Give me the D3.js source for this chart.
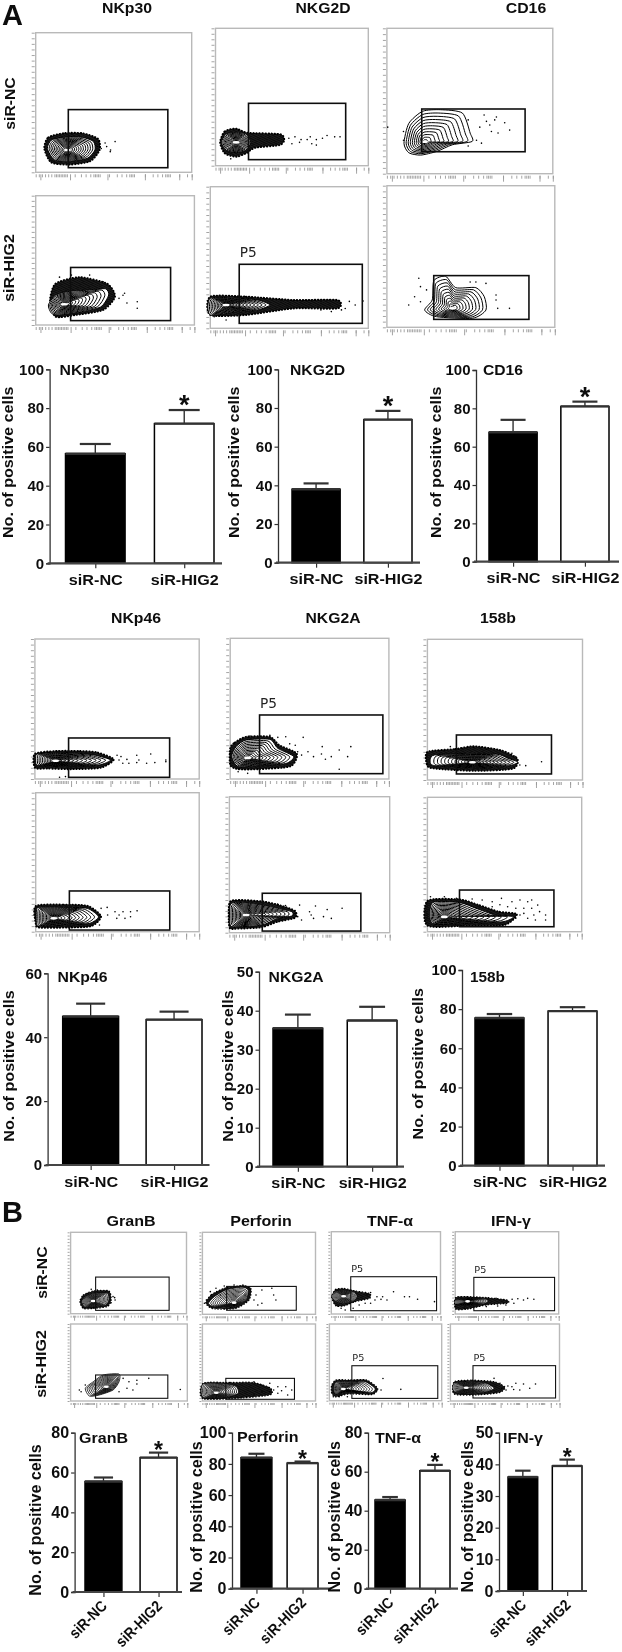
<!DOCTYPE html>
<html>
<head>
<meta charset="utf-8">
<script src="https://cdn.jsdelivr.net/npm/d3@7"></script>
<style>
  html, body { margin: 0; padding: 0; background: #fff; }
  svg { display: block; }
  text { font-family: "Liberation Sans", Arial, sans-serif; font-weight: bold; fill: #111; }
  .p5 { font-family: "DejaVu Sans", sans-serif; font-weight: normal; fill: #222; }
</style>
</head>
<body>
<div id="chart-area"></div>
<script>
// Bar chart data, one entry per small chart
const barNames = ['NKp30', 'NKG2D', 'CD16', 'NKp46', 'NKG2A', '158b', 'GranB', 'Perforin', 'TNF-α', 'IFN-γ'];
const groups = ['siR-NC', 'siR-HIG2'];
const barMeans = [[56.5, 72], [38, 74], [67.5, 81], [46.5, 45.5], [35.5, 37.5], [75.5, 79], [55.5, 67.5], [84, 80.5], [45.5, 60.5], [36, 39.5]];
const barErrTops = [[61.5, 79], [41, 78.5], [74, 83.5], [50.5, 48], [39, 41], [77.5, 81], [57.5, 70], [86.5, 81.5], [47, 63.5], [38, 41.5]];
const barStars = [true, true, true, false, false, false, true, true, true, true];
const barTicks = [
  [0, 20, 40, 60, 80, 100], [0, 20, 40, 60, 80, 100], [0, 20, 40, 60, 80, 100],
  [0, 20, 40, 60], [0, 10, 20, 30, 40, 50], [0, 20, 40, 60, 80, 100],
  [0, 20, 40, 60, 80], [0, 20, 40, 60, 80, 100], [0, 20, 40, 60, 80], [0, 10, 20, 30, 40, 50]
];

// Flow plots, in percent of the plot width and height
const flowTitles = ['NKp30', 'NKG2D', 'CD16', 'NKp46', 'NKG2A', '158b', 'GranB', 'Perforin', 'TNF-α', 'IFN-γ'];
const flowGates = [
  [20.9, 84.7, 3.3, 44.9], [21.6, 85.2, 4.4, 45.4], [21, 83.3, 15.1, 44.5],
  [22, 85, 3.4, 44.5], [18.3, 96.2, 3.5, 45.2], [27.9, 84.6, 5.6, 36.5],
  [20.5, 82, 1.2, 29.3], [18.5, 96.2, 3.8, 45.5], [18.7, 80, 4.3, 32],
  [20.6, 82, 1.2, 29.3], [20.5, 82, 1.2, 29], [20.8, 82, 3.7, 31],
  [21.6, 85, 4.1, 45], [21.4, 83, 4.9, 34], [17.8, 96.4, 4, 45.3], [18, 96, 4, 44.5],
  [21.4, 83.3, 3.5, 33.8], [20.7, 81.4, 2.2, 29.4], [20, 96.5, 3, 45.6], [20.7, 96.4, 3.9, 45.9]
];
const flowCores = [
  [20.4, 16], [13.5, 17], [22.7, 22], [18, 16], [10, 16.5], [39, 13.4],
  [12.6, 13], [11, 15], [29, 12.6], [11, 9.6], [10.4, 13], [11, 11],
  [19.5, 15.6], [28, 14.2], [11.3, 21.5], [12, 15.4],
  [30.6, 18.6], [12.3, 10.8], [12.4, 15.2], [14.5, 17.3]
];
const flowOutlines = [
  [[7.5, 17], [10, 23], [18, 25], [30, 25], [37, 22], [38, 16], [33, 10], [22, 8], [12, 9]],
  [[3.9, 17], [7, 23], [13.5, 24.3], [20, 23], [23, 17], [20, 11.4], [13.5, 9.5], [7, 11.4]],
  [[10.3, 20.9], [13.2, 34.6], [21.5, 42.9], [32.3, 44], [45.5, 41.7], [50.2, 27.9], [51.4, 22.2], [39.5, 19.9], [30, 15.3], [20.3, 12.8], [13.2, 14.4]],
  [[8, 15.5], [12.5, 23], [21, 26], [35, 27], [44, 28], [46, 23.2], [41, 14], [27.5, 10], [15, 7.7], [10, 9]],
  [[0, 21.2], [17.6, 21.2], [30, 20], [37.7, 16.5], [30, 13], [17.6, 11.8], [0, 9.4]],
  [[22.5, 12.2], [27, 19.3], [28, 33], [35, 36], [41, 28], [53, 28], [58, 21.6], [59, 12.2], [51, 6.4], [29.5, 7.5]],
  [[0.5, 16], [1.7, 17.9], [12.6, 18.8], [27, 18.3], [36.7, 17], [46, 13.6], [39, 10], [22, 9], [7.7, 9.3], [1, 10]],
  [[1, 16], [3.7, 23], [10, 27.7], [25, 28.2], [30, 21.8], [40, 16], [35, 11], [17.5, 9.5], [5, 8.8]],
  [[2, 15.4], [4.6, 17.8], [18.7, 18.5], [44, 18.5], [52, 15.4], [58.3, 12.6], [52, 10], [31.5, 8.3], [5.9, 10], [2, 11.8]],
  [[0.5, 15.6], [2.4, 17.5], [17, 17.5], [31.5, 16.8], [38.4, 10.8], [33, 6], [19.4, 4.8], [2.4, 4], [0.5, 6]],
  [[0.5, 20.3], [5.4, 22.3], [20.3, 20.3], [30, 17.9], [39, 15.4], [39, 12.3], [30, 10.5], [20.3, 5.6], [5.4, 4.4], [0.5, 5.6]],
  [[3.3, 21.6], [21, 21.6], [31.5, 17.4], [44, 12.4], [55.8, 11.2], [49, 7.4], [26.5, 6.2], [3.3, 6.2]],
  [[9.6, 14.8], [12.7, 20.9], [21, 25], [31.5, 25], [33, 16.9], [30, 10.7], [21, 8.6], [12.7, 8.6]],
  [[5.3, 13.4], [10.5, 21.5], [21, 29.7], [35, 33], [40.4, 29.7], [38.6, 17.5], [28, 9.3], [10.5, 9.3]],
  [[0.4, 21.5], [3.6, 27], [11.3, 29], [20, 27], [23.6, 21.5], [20, 15.8], [11.3, 13], [3.6, 15.8]],
  [[0.4, 17], [9, 19.8], [26, 19], [31.8, 15.8], [26, 12], [9, 11], [0.4, 12]],
  [[12.6, 16.5], [19.4, 25], [28, 33.8], [41.5, 35], [41.5, 25], [36.4, 14.3], [24.5, 7.8], [16, 6.5]],
  [[0.7, 22], [21, 22], [30, 18.6], [31.6, 10], [21, 4.8], [0.7, 4.8]],
  [[4.2, 20.4], [7, 24.8], [17.7, 24.8], [31.8, 24.8], [40.6, 16], [37, 10.4], [17.7, 11.7], [7, 8.3], [4.2, 11.7]],
  [[3.6, 23], [20, 25], [32.7, 23], [40, 16.5], [32.7, 12], [20, 10], [3.6, 12.5]]
];
// Dense speckle around each population, [] where the plot has none
const flowHalos = [
  [[5.5, 17], [8, 25], [18, 28], [30, 28], [40, 24], [41, 16], [35, 8], [22, 5.5], [10, 7]],
  [[3, 17], [6, 25], [13.5, 27], [21, 24], [42, 23], [45, 19], [42, 15], [26, 13], [20, 9], [13.5, 6.5], [6, 9]],
  [],
  [[9, 19], [12.5, 32], [27.5, 37], [45, 32], [50, 22], [42.5, 11.6], [25, 7.7], [12.5, 6.4]],
  [[0, 22.4], [22.6, 22.4], [52.8, 20], [80.4, 20], [80.4, 14], [52.8, 14], [22.6, 9.4], [0, 9.4]],
  [],
  [[0, 18], [13, 20], [27, 20], [38, 19], [48, 14], [40, 8], [22, 7], [8, 7.5], [0, 8]],
  [[0, 22], [3, 26], [10, 30], [25, 30], [31, 24], [42, 18], [38, 9], [18, 7], [5, 7], [0, 10]],
  [[0, 20], [18, 22], [30, 24], [48, 21], [58, 15], [55, 8], [30, 6.5], [6, 8], [0, 10]],
  [[0, 18.5], [17, 19.5], [32, 18.5], [40, 11], [34, 4], [19, 3], [2, 3], [0, 6]],
  [[0, 22], [6, 24], [21, 23], [32, 20], [41, 16], [41, 11], [30, 8], [20, 4], [5, 3], [0, 4]],
  [[0, 23], [21, 24], [33, 20], [46, 15], [58, 13], [50, 5], [26, 4.5], [0, 4.5]],
  [[8, 15], [11, 23], [20, 28], [33, 28], [35, 17], [32, 9], [20, 6.5], [11, 6.5]],
  [[3, 14], [8, 24], [20, 32], [36, 35], [43, 31], [41, 17], [29, 7], [9, 7]],
  [[0.4, 21], [4, 30], [12, 31], [22, 28], [35, 25], [35, 19], [22, 15], [12, 10], [4, 10]],
  [[0.4, 20], [12, 21], [30, 20], [50, 17], [50, 13], [30, 11], [12, 6], [0.4, 6]],
  [],
  [[0.7, 23], [25, 24], [45, 24], [60, 17], [60, 8], [35, 4], [0.7, 3]],
  [[2, 20], [6, 27], [18, 27], [33, 27], [43, 16], [38, 8], [18, 9], [6, 5], [2, 10]],
  [[3.6, 25], [20, 27], [40, 25], [50, 18], [45, 11], [25, 8], [3.6, 9]]
];
const flowDots = [
  [[40.7, 22], [44.5, 21], [47.8, 14.8], [50.9, 22], [45.5, 18.4], [42, 17], [39.5, 18.4], [48, 16]],
  [[48, 20], [52, 21], [56, 19], [60, 19], [62, 21], [66, 19], [70, 20], [73, 22], [78, 21], [81.5, 21], [50, 16], [55, 17], [63, 16], [66, 15], [10, 5]],
  [[49, 37], [58.6, 40.4], [62, 33.5], [66, 39], [56, 32], [63, 29], [67, 28], [74, 30], [71, 35], [54, 23], [57, 21], [49, 19], [0.5, 32], [10, 29], [10, 23], [60, 36], [65, 37]],
  [[55, 23], [57.5, 17], [64, 18], [64, 13], [52.5, 20.6], [56, 24.5], [34, 38.6], [15, 37], [22.5, 38.6], [42.5, 33.5]],
  [[88, 19], [96.7, 19.3], [91.7, 16.5], [85.4, 14], [10, 5.9], [2.5, 8.2], [83, 13], [76.6, 11.8], [70, 13]],
  [[19, 34.6], [20, 28.7], [23.6, 26.4], [16.5, 21.6], [13, 15.8], [20, 18], [65, 22.8], [65, 19.3], [73, 13.4], [66, 13.4], [49.6, 32], [53, 32], [59, 31]],
  [[50, 17], [52.4, 16], [51.2, 13.6], [56, 14], [57.2, 11.2], [62, 17], [63.3, 13.6], [62, 11.7], [70.5, 17.9], [68, 11.2], [73, 11.7], [79.7, 13.6], [79.7, 12.4], [15, 1.2], [18.6, 1.7], [53.5, 11.2]],
  [[2.5, 25], [12.5, 30.6], [18.7, 30], [25, 31], [30, 29.6], [35, 30], [46, 29.6], [41, 24], [37.5, 25], [42.5, 19.4], [49, 19.4], [45, 17], [52.5, 15.9], [58, 23], [57.5, 17.8], [63.7, 15.9], [60, 14], [68.7, 20.6], [76, 23], [74, 15.9], [68.7, 6.9], [11, 4], [5, 5.2]],
  [[14.8, 23.7], [11, 21], [22.5, 22.5], [30, 23.2], [37.8, 21.8], [57, 16.6], [63.4, 10.2], [73.6, 13], [59.6, 10.7], [54.5, 19]],
  [[40, 16.8], [43.7, 17.5], [39, 12], [37.6, 7.2], [48.5, 14.4], [51, 12], [53.4, 14.4], [58, 14.4], [62, 15], [49.6, 9.6], [54.6, 9.6], [58, 10.8], [39, 4.8], [44, 12]],
  [[30, 21], [35, 20], [43.8, 20.3], [53.7, 19.6], [61, 17], [70.3, 18], [41, 14], [42.6, 11.8], [50, 15.4], [51, 13], [58.7, 11.8], [63.6, 10.5], [45, 9.3], [52.5, 10.5]],
  [[29, 24.3], [35.5, 23.6], [42, 22.3], [48, 24.8], [54.8, 22.3], [60, 23.6], [65, 22.3], [52, 18.6], [57.3, 17.4], [62.5, 17.4], [67.6, 17.4], [69, 12.4], [72.7, 14.9], [76.6, 12.4], [76.6, 8.7], [70, 8.7], [65, 10], [60, 12.4], [57.3, 10], [62.5, 13.6], [47, 20], [42, 18.6], [71.5, 19.8], [2, 26], [11, 26], [18.8, 24.8], [67.6, 23.6]],
  [[17.8, 30], [23, 29], [30, 27], [36.6, 21], [38.4, 16.8], [35, 13.5], [15, 25], [38, 19.7]],
  [[3.5, 17.5], [7, 27.6], [12, 31.7], [15.8, 23.6], [19.3, 34.5], [28, 35.8], [35.8, 35.8], [42, 31.7], [47.4, 23.6], [52.6, 29.7], [61.4, 31.7], [65, 17.5], [52.6, 13.4], [45.6, 17.5], [49, 11.4], [1.8, 13.4], [63, 23.6]],
  [[32.7, 23], [36, 26], [41.8, 21], [47, 21], [40, 17], [45.5, 17.8], [57, 27], [67, 21], [71.6, 21], [79, 18], [94.5, 15], [25.5, 11], [31, 13], [20, 7], [9, 7], [12.7, 4.9], [6, 9.7], [51, 17], [36, 13]],
  [[39.5, 19], [47, 17], [55, 18], [60.5, 18.6], [70, 19], [76, 18], [66, 17], [49, 11], [41, 9.7], [56.7, 13], [8.8, 6.9], [18, 9], [30, 9]],
  [[7.5, 14.3], [9, 12], [12.6, 20.8], [45, 29.4], [56.8, 27], [56.8, 22], [67, 29.4], [50, 25], [48.3, 16.5], [94, 15], [41.5, 12], [53.4, 14.3]],
  [[45.6, 25], [52.6, 20.8], [59.6, 23], [66.7, 18.6], [73.7, 18.6], [79, 14.3], [75.4, 7.8], [66.7, 10], [59.6, 12], [52.6, 12], [45.6, 7.8], [38.6, 5.6], [63, 14.3], [70, 13.4], [58, 17.7]],
  [[47.7, 29], [42.4, 14], [46, 14], [63.6, 14.8], [3.5, 5.2], [8.8, 5.2], [16, 5.2], [24.7, 24.8]],
  [[45.5, 23], [52.7, 19.5], [60, 23], [67, 22], [78, 22], [51, 14.3], [58, 15], [63.6, 14.3], [72.7, 16.5], [56.4, 18.6], [47, 16.5], [40, 29.4]]
];
const flowTicksX = [0, 2, 4, 6, 8, 10, 12, 13, 14, 15, 16, 17, 18, 19, 20, 25, 29, 32, 35, 37, 38, 39, 40, 41, 47, 52, 55, 58, 60, 61, 62, 63, 70, 75, 78, 81, 83, 84, 85, 86, 92, 97, 100];
const flowTicksXMajor = [3, 22, 46, 70, 92, 100];
const flowTicksY = [0, 4, 8, 12, 16, 20, 24, 28, 32, 36, 40, 44, 48, 52, 56, 60, 64, 68, 72, 76, 80, 84, 88, 92, 96, 100];
const flowP5Panels = [4, 7, 14, 15, 18, 19];

// Page layout, all in pixels
// [left, right, top, bottom] of each flow plot frame
const flowFrames = [
  [35.7, 191.7, 32.7, 172.3], [215.5, 368.3, 28.3, 165.7], [386.9, 552.8, 28.3, 173.7],
  [35.7, 194.4, 195.7, 325], [210.3, 368.3, 186.7, 328.3], [386.9, 554.8, 185.7, 327.3],
  [34.9, 199.2, 639, 779], [230.2, 388.9, 638.3, 779], [427.4, 582.5, 639.3, 780],
  [35.7, 199.2, 792.7, 931.7], [229.4, 389.7, 796.7, 932.7], [427.4, 581.7, 797.3, 931.7],
  [70.6, 186.5, 1232.3, 1313.7], [202.4, 315.5, 1232.3, 1314.3], [331.3, 440.5, 1231.7, 1314], [455.2, 558.7, 1231.7, 1314],
  [70.6, 187.3, 1324, 1401], [202.4, 315.5, 1324, 1401], [329.4, 441.7, 1324, 1400.7], [450.4, 559.5, 1324, 1401]
];
// [centre x, baseline y, text length]
const flowTitleLayout = [
  [127, 12.7, 50], [323, 12.7, 55], [526, 12.7, 40.5],
  [136, 622.7, 50], [333, 622.7, 55], [498, 622.7, 36],
  [131, 1226, 49], [261, 1226, 61.5], [390, 1226, 46], [511, 1226, 40]
];
// [text, baseline x, centre y, text length] for the rotated row labels
const rowLabelLayout = [
  ['siR-NC', 15, 103.5, 52.3], ['siR-HIG2', 14, 268, 67.7],
  ['siR-NC', 47, 1272.7, 52.3], ['siR-HIG2', 46, 1364, 67.7]
];
// axisX, xEnd, first bar left, last bar right, y top, y bottom, title x, title y, title length, y label x, y label centre
const barLayout = [
  [49.6, 222, 65.5, 214, 369.3, 563.3, 59.5, 375, 50, 12.7, 462.3],
  [278, 420, 292, 412, 369.3, 562.7, 290, 375, 55, 239, 462.3],
  [476, 619, 489, 609, 370, 561.7, 483, 374.7, 40, 440.5, 462.3],
  [47.6, 209.5, 62.7, 202, 973.3, 1165, 57.5, 982.3, 50, 14, 1066],
  [259, 404, 273, 397, 971.7, 1166.7, 268.6, 982.3, 55, 233, 1066],
  [462, 605, 475, 597, 970, 1165.7, 470, 982.3, 35, 423.4, 1063.7],
  [74.6, 182, 85, 177, 1432.7, 1592, 79, 1442.7, 49, 41, 1520],
  [232, 331, 241, 318, 1432.7, 1588.7, 237, 1441.7, 61.5, 202, 1517],
  [368, 458, 375, 450, 1432.7, 1588.7, 375, 1442.7, 46, 340, 1516.7],
  [499, 587, 508, 582, 1432.7, 1591, 503, 1442.7, 40, 473.4, 1516.7]
];

let svg = d3.select('#chart-area').append('svg').attr('width', 622).attr('height', 1652);

// The source figure is a soft JPEG, so everything gets a slight blur
let defs = svg.append('defs');
defs.append('filter').attr('id', 'soft').append('feGaussianBlur').attr('stdDeviation', 0.45);
let stipple = defs.append('pattern').attr('id', 'stipple')
  .attr('width', 2).attr('height', 2)
  .attr('patternUnits', 'userSpaceOnUse')
  .attr('patternTransform', 'rotate(25)');
stipple.append('circle').attr('cx', 1).attr('cy', 1).attr('r', 1.05).attr('fill', '#000');

let page = svg.append('g').attr('filter', 'url(#soft)');

// Panel letters
page.append('text').attr('x', 2).attr('y', 25).attr('font-size', 29).text('A');
page.append('text').attr('x', 2).attr('y', 1221.7).attr('font-size', 29).text('B');

// Titles above the flow columns
flowTitles.forEach((t, i) => {
  let [x, y, len] = flowTitleLayout[i];
  page.append('text').attr('x', x).attr('y', y)
    .attr('text-anchor', 'middle').attr('font-size', 15)
    .attr('textLength', len).attr('lengthAdjust', 'spacingAndGlyphs')
    .text(t);
});

rowLabelLayout.forEach(([t, x, y, len]) => {
  page.append('text')
    .attr('transform', `translate(${x},${y}) rotate(-90)`)
    .attr('text-anchor', 'middle').attr('font-size', 15.5)
    .attr('textLength', len).attr('lengthAdjust', 'spacingAndGlyphs')
    .text(t);
});

flowFrames.forEach((frame, i) => drawFlow(frame, i));
barNames.forEach((name, i) => drawBars(name, i));

function drawFlow([left, right, top, bottom], i) {
  let g = page.append('g').attr('class', 'flow');
  let x = d3.scaleLinear().domain([0, 100]).range([left, right]);
  let y = d3.scaleLinear().domain([0, 100]).range([bottom, top]);
  let small = right - left < 130;
  let tick = small ? 2 : 3;

  // Log style ticks, outside the frame
  let xAxis = g.append('g')
    .attr('transform', `translate(0,${bottom + 2})`)
    .call(d3.axisBottom(x).tickValues(flowTicksX).tickSize(tick).tickFormat(''));
  let xMajor = g.append('g')
    .attr('transform', `translate(0,${bottom + 2})`)
    .call(d3.axisBottom(x).tickValues(flowTicksXMajor).tickSize(tick + 3).tickFormat(''));
  let yAxis = g.append('g')
    .attr('transform', `translate(${left - 1},0)`)
    .call(d3.axisLeft(y).tickValues(flowTicksY).tickSize(tick).tickFormat(''));
  [xAxis, xMajor, yAxis].forEach(a => {
    a.select('.domain').remove();
    a.selectAll('line').attr('stroke', '#9a9a9a').attr('stroke-width', 0.9);
  });

  g.append('rect')
    .attr('x', left).attr('y', top)
    .attr('width', right - left).attr('height', bottom - top)
    .attr('fill', '#fff').attr('stroke', '#b9b9b9').attr('stroke-width', 1.4);

  let line = d3.line().x(d => x(d[0])).y(d => y(d[1])).curve(d3.curveCardinalClosed.tension(0.3));

  // Speckled cloud behind the contours, with a dotted rim
  if (flowHalos[i].length) {
    g.append('path').attr('d', line(flowHalos[i]))
      .attr('fill', 'url(#stipple)')
      .attr('stroke', '#000').attr('stroke-width', small ? 1.3 : 1.9)
      .attr('stroke-linecap', 'round').attr('stroke-dasharray', '0.4 2.6');
  }

  // Nested contours, shrinking onto the densest point
  let core = flowCores[i];
  let outline = flowOutlines[i];
  let levels = i === 2 || i === 5 ? 11 : 13;
  d3.range(levels).forEach(k => {
    let t = Math.pow(1 - k / levels, 1.15);
    let ring = outline.map(p => [core[0] + (p[0] - core[0]) * t, core[1] + (p[1] - core[1]) * t]);
    g.append('path').attr('d', line(ring))
      .attr('fill', k === 0 ? '#fff' : 'none')
      .attr('stroke', '#000').attr('stroke-width', small ? 0.8 : 1);
  });
  g.append('ellipse')
    .attr('cx', x(core[0])).attr('cy', y(core[1]))
    .attr('rx', small ? 2.5 : 3.5).attr('ry', 1.3)
    .attr('fill', '#fff');

  g.selectAll('.dot').data(flowDots[i]).enter()
    .append('circle').attr('class', 'dot')
    .attr('cx', d => x(d[0])).attr('cy', d => y(d[1]))
    .attr('r', 0.8).attr('fill', '#000');

  let gate = flowGates[i];
  g.append('rect')
    .attr('x', x(gate[0])).attr('y', y(gate[3]))
    .attr('width', x(gate[1]) - x(gate[0])).attr('height', y(gate[2]) - y(gate[3]))
    .attr('fill', 'none').attr('stroke', '#111').attr('stroke-width', small ? 1.1 : 1.6);

  if (flowP5Panels.includes(i)) {
    g.append('text').attr('class', 'p5')
      .attr('x', x(gate[0]) + 0.5).attr('y', y(gate[3]) - (small ? 4.3 : 7))
      .attr('font-size', small ? 9 : 13.5)
      .attr('textLength', small ? 12 : 17).attr('lengthAdjust', 'spacingAndGlyphs')
      .text('P5');
  }
}

function drawBars(name, i) {
  let [axisX, xEnd, barL, barR, yTop, yBottom, titleX, titleY, titleLen, labelX, labelY] = barLayout[i];
  let lastRow = i >= 6;
  let g = page.append('g').attr('class', 'bars');

  let ticks = barTicks[i];
  let y = d3.scaleLinear().domain([0, d3.max(ticks)]).range([yBottom, yTop]);
  let x = d3.scaleBand().domain(groups).range([barL, barR]).paddingInner(0.33).paddingOuter(0);

  // Bars
  g.selectAll('.bar').data(groups).enter()
    .append('rect').attr('class', 'bar')
    .attr('x', d => x(d))
    .attr('y', (d, j) => y(barMeans[i][j]))
    .attr('width', x.bandwidth())
    .attr('height', (d, j) => y(0) - y(barMeans[i][j]))
    .attr('fill', (d, j) => (j === 0 ? '#000' : '#fff'))
    .attr('stroke', '#000').attr('stroke-width', 1.5);

  // Error bars, upper half only
  groups.forEach((d, j) => {
    let cx = x(d) + x.bandwidth() / 2;
    let capW = x.bandwidth() * 0.26;
    g.append('line')
      .attr('x1', cx).attr('x2', cx)
      .attr('y1', y(barMeans[i][j])).attr('y2', y(barErrTops[i][j]))
      .attr('stroke', '#222').attr('stroke-width', 1.3);
    g.append('line')
      .attr('x1', cx - capW).attr('x2', cx + capW)
      .attr('y1', y(barErrTops[i][j])).attr('y2', y(barErrTops[i][j]))
      .attr('stroke', '#333').attr('stroke-width', 2.2);
    g.append('line')
      .attr('x1', x(d)).attr('x2', x(d) + x.bandwidth())
      .attr('y1', y(barMeans[i][j])).attr('y2', y(barMeans[i][j]))
      .attr('stroke', '#333').attr('stroke-width', 2.4);
    if (barStars[i] && j === 1) {
      g.append('text')
        .attr('x', cx)
        .attr('y', y(barErrTops[i][j]) + (lastRow ? 5 : 4))
        .attr('text-anchor', 'middle')
        .attr('font-size', lastRow ? 23 : 27)
        .text('*');
    }
  });

  // Axes
  let yAxis = g.append('g')
    .attr('transform', `translate(${axisX},0)`)
    .call(d3.axisLeft(y).tickValues(ticks).tickSize(3.5).tickPadding(2));
  yAxis.select('.domain').attr('stroke', '#333').attr('stroke-width', 1.3);
  yAxis.selectAll('line').attr('stroke', '#333').attr('stroke-width', 1.2);
  yAxis.selectAll('text').attr('font-size', lastRow ? 16 : 15);

  let xScaleTicks = d3.scalePoint().domain(groups)
    .range([x(groups[0]) + x.bandwidth() / 2, x(groups[1]) + x.bandwidth() / 2]);
  let xAxis = g.append('g')
    .attr('transform', `translate(0,${yBottom})`)
    .call(d3.axisBottom(xScaleTicks).tickSize(5).tickPadding(5.5));
  xAxis.select('.domain').remove();
  xAxis.selectAll('line').attr('stroke', '#333').attr('stroke-width', 1.2);
  xAxis.selectAll('text')
    .attr('font-size', 15.5)
    .attr('lengthAdjust', 'spacingAndGlyphs')
    .attr('textLength', d => {
      if (lastRow) return d === groups[0] ? 46 : 58;
      return d === groups[0] ? 54 : 68;
    });
  if (lastRow) {
    xAxis.selectAll('text')
      .attr('text-anchor', 'end')
      .attr('x', 0).attr('y', 0).attr('dy', 0)
      .attr('transform', 'translate(4,15) rotate(-45)');
  }

  g.append('line')
    .attr('x1', axisX - 2).attr('x2', xEnd)
    .attr('y1', yBottom).attr('y2', yBottom)
    .attr('stroke', '#444').attr('stroke-width', 2.2);

  // Name inside the chart and rotated y title
  g.append('text').attr('x', titleX).attr('y', titleY)
    .attr('font-size', 15)
    .attr('textLength', titleLen).attr('lengthAdjust', 'spacingAndGlyphs')
    .text(name);
  g.append('text')
    .attr('transform', `translate(${labelX},${labelY}) rotate(-90)`)
    .attr('text-anchor', 'middle').attr('font-size', lastRow ? 16 : 15.5)
    .attr('textLength', 151.5).attr('lengthAdjust', 'spacingAndGlyphs')
    .text('No. of positive cells');
}
</script>
</body>
</html>
